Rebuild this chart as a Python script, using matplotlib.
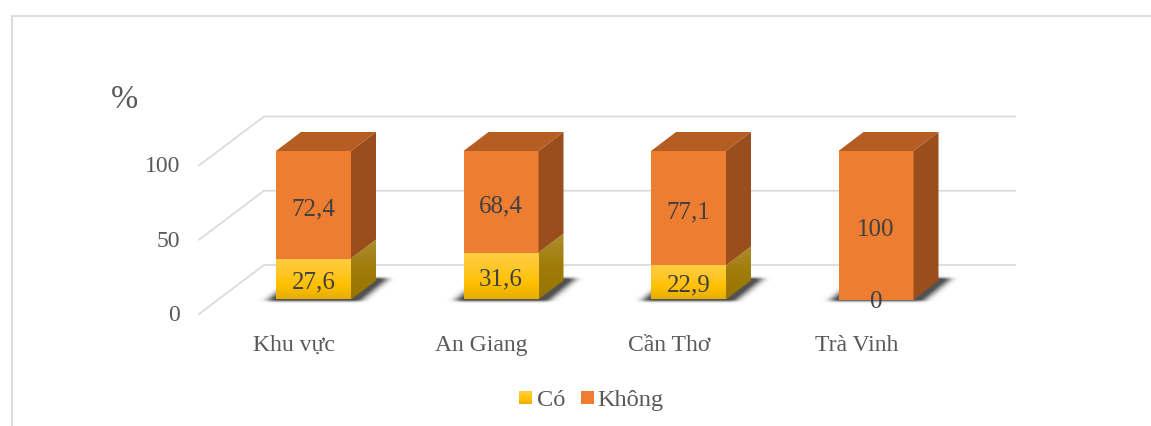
import numpy as np
import matplotlib.pyplot as plt
from matplotlib.patches import Polygon, Rectangle
from matplotlib.path import Path
from matplotlib.colors import LinearSegmentedColormap

plt.rcParams['font.family'] = ['Liberation Serif', 'DejaVu Serif']

### data
categories = ['Khu vực', 'An Giang', 'Cần Thơ', 'Trà Vinh']
co = [27.6, 31.6, 22.9, 0]
khong = [72.4, 68.4, 77.1, 100]
co_labels = ['27,6', '31,6', '22,9', '0']
khong_labels = ['72,4', '68,4', '77,1', '100']
y_ticks = [0, 50, 100]

### scale of the axes (pixels per unit), first bar centre and baseline in pixels
W, H = 1151, 426
sx, sy = 187.5, 1.485
x0, y0 = 313.5, 299.5


def ux(px):
    return px / sx


def uy(px):
    return px / sy


bar_w = ux(75)
depth_x, depth_y = ux(25), uy(19)

fig = plt.figure(figsize=(W / 100, H / 100), dpi=100, facecolor='white')
ax = fig.add_axes([0, 0, 1, 1])
ax.axis('off')
xlim = (-x0 / sx, (W - x0) / sx)
ylim = ((y0 - H) / sy, y0 / sy)

### outer chart frame
ax.plot([ux(11.5) + xlim[0], xlim[1]], [uy(y0 - 16), uy(y0 - 16)], color='#dedede', lw=1.4, zorder=1)
ax.plot([ux(11.5) + xlim[0]] * 2, [ylim[0], uy(y0 - 16)], color='#dedede', lw=1.6, zorder=1)

### back wall gridlines and floor diagonals
wall_left, wall_right = ux(-49.5), ux(701.5)
wall_up = uy(34.5)
floor_left, floor_down = ux(-114.5), uy(14.5)
for v in y_ticks:
    ax.plot([floor_left, wall_left, wall_right], [v - floor_down, v + wall_up, v + wall_up],
            color='#d9d9d9', lw=1.2, zorder=1, solid_joinstyle='miter')
    ax.text(ux(-133.5), v - floor_down + uy(1), str(v), ha='right', va='center_baseline',
            fontsize=17, color='#595959')

yellow_front = LinearSegmentedColormap.from_list('yf', ['#e6ae00', '#ffc000', '#ffc72a', '#ffcd40'])
yellow_side = LinearSegmentedColormap.from_list('ys', ['#987400', '#a07c08', '#ad8d30'])
grad = np.linspace(1, 0, 64).reshape(-1, 1)


def grad_face(pts, cmap, zorder):
    # gradient image clipped to a polygon
    xs = [p[0] for p in pts]
    ys = [p[1] for p in pts]
    im = ax.imshow(grad, cmap=cmap, aspect='auto', zorder=zorder, vmin=0, vmax=1,
                   extent=(min(xs), max(xs), min(ys), max(ys)))
    poly = Polygon(pts, closed=True, transform=ax.transData, fc='none', ec='none')
    ax.add_patch(poly)
    im.set_clip_path(poly)


def blur(a, axis, sigma):
    t = np.arange(-int(3 * sigma), int(3 * sigma) + 1)
    kernel = np.exp(-t ** 2 / (2 * sigma ** 2))
    kernel = kernel / kernel.sum()
    return np.apply_along_axis(lambda r: np.convolve(r, kernel, mode='same'), axis, a)


def shadow(i):
    # blurred floor shadow, worked out in pixels around the bar base
    left_px, right_px = -37.5, 37.5
    gx = np.arange(left_px - 30, right_px + 60)
    gy = np.arange(-15, 35)
    xx, yy = np.meshgrid(gx + 0.5, gy + 0.5)
    shape = Path([(left_px - 9, -2), (right_px + 9, -2), (right_px + 37, 21), (left_px + 20, 21)])
    mask = shape.contains_points(np.c_[xx.ravel(), yy.ravel()]).reshape(xx.shape).astype(float)
    mask = blur(blur(mask, 1, 4.5), 0, 1.2)
    rgba = np.zeros(mask.shape + (4,))
    rgba[..., :3] = 0.2
    rgba[..., 3] = np.clip(mask * 1.05, 0, 0.85)
    ax.imshow(rgba, aspect='auto', origin='lower', zorder=2, interpolation='bilinear',
              extent=(i + ux(gx[0]), i + ux(gx[-1] + 1), uy(gy[0]), uy(gy[-1] + 1)))


for i, cat in enumerate(categories):
    left = i - bar_w / 2
    right = i + bar_w / 2
    z = 3 + i

    shadow(i)

    # yellow segment
    if co[i] > 0:
        grad_face([(left, 0), (right, 0), (right, co[i]), (left, co[i])], yellow_front, z)
        grad_face([(right, 0), (right + depth_x, depth_y),
                   (right + depth_x, co[i] + depth_y), (right, co[i])], yellow_side, z)

    # orange segment
    top = co[i] + khong[i]
    ax.bar(i, khong[i], bottom=co[i], width=bar_w, color='#ed7d31', zorder=z)
    ax.add_patch(Polygon([(right, co[i]), (right + depth_x, co[i] + depth_y),
                          (right + depth_x, top + depth_y), (right, top)],
                         closed=True, fc='#994e1c', ec='none', zorder=z))
    ax.add_patch(Polygon([(left, top), (right, top),
                          (right + depth_x, top + depth_y), (left + depth_x, top + depth_y)],
                         closed=True, fc='#b55d22', ec='none', zorder=z))

    # value labels
    ax.text(i, co[i] + khong[i] / 2 - uy(2), khong_labels[i], ha='center', va='center_baseline',
            fontsize=18, color='#404040', zorder=20)
    ax.text(i, co[i] / 2 - uy(0.5), co_labels[i], ha='center', va='center_baseline',
            fontsize=18, color='#404040', zorder=20)

    # category labels
    ax.text(i - ux(19.5), uy(-43.5), cat, ha='center', va='center_baseline',
            fontsize=17, color='#595959')

### unit label
ax.text(ux(-189.5), uy(203), '%', ha='center', va='center_baseline', fontsize=23.5, color='#595959')

### legend
grad_face([(ux(205.5), uy(-91.5)), (ux(218.5), uy(-91.5)), (ux(218.5), uy(-104.5)), (ux(205.5), uy(-104.5))],
          yellow_front, 5)
ax.add_patch(Rectangle((ux(267.5), uy(-104)), ux(12.5), uy(12.5), fc='#ed7d31', ec='none'))
ax.text(ux(223), uy(-98.5), 'Có', ha='left', va='center_baseline', fontsize=17.6, color='#595959')
ax.text(ux(284), uy(-98.5), 'Không', ha='left', va='center_baseline', fontsize=17.6, color='#595959')

ax.set_xlim(xlim)
ax.set_ylim(ylim)

plt.savefig('out.png', dpi=100, facecolor='white')
